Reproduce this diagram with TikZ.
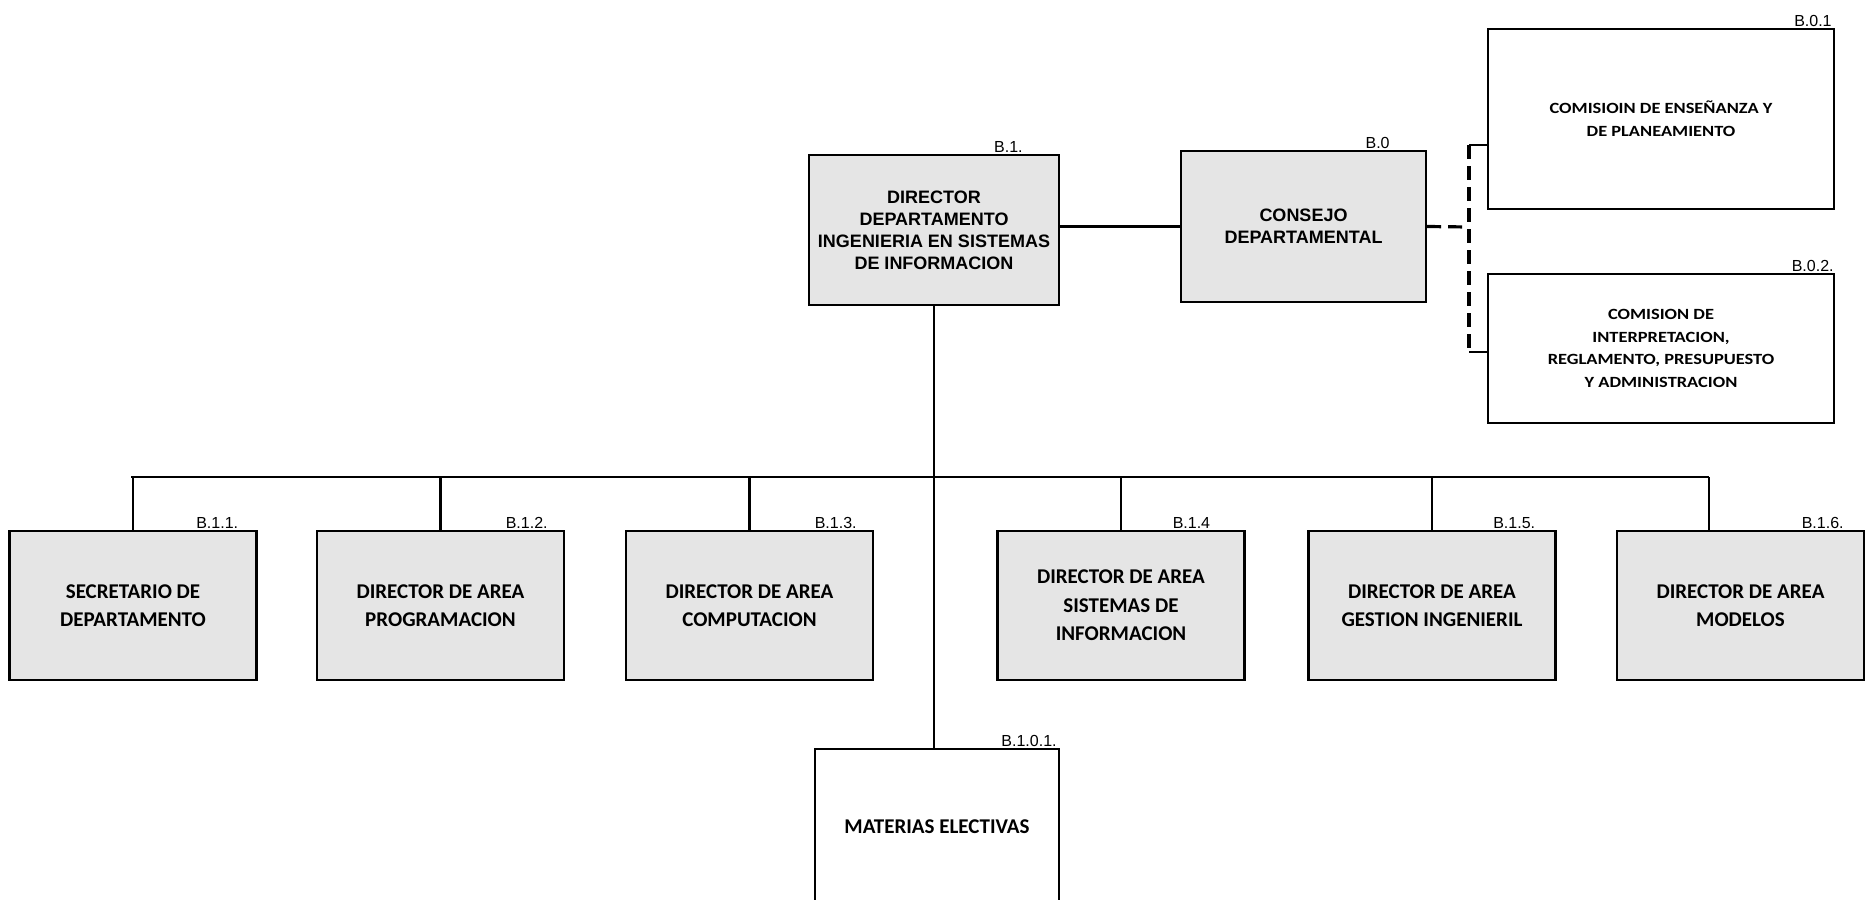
\documentclass[tikz,border=0pt]{standalone}
\usepackage{fontspec}
\setmainfont{Carlito}
\newfontfamily\arialfont{Liberation Sans}
\newfontfamily\widefont[FakeStretch=1.18]{Carlito}
\usetikzlibrary{positioning}

\tikzset{
  box/.style={draw, line width=1.2pt, align=center, inner sep=2pt,
    minimum width=123.5pt, minimum height=74.5pt,
    font=\bfseries\fontsize{10.5}{14.3}\selectfont},
  greybox/.style={box, fill=black!10},
  lbl/.style={font=\arialfont\fontsize{8}{9}\selectfont, inner sep=0.6pt},
  link/.style={line width=1.3pt},
  dlink/.style={line width=1.6pt, dash pattern=on 7pt off 3.5pt},
}

\begin{document}
\begin{tikzpicture}[x=0.5pt,y=-0.5pt]
\useasboundingbox (0,0) rectangle (1870,900);

% direccion y consejo
\node[greybox, minimum width=125pt, minimum height=75pt,
  font=\arialfont\bfseries\fontsize{9}{11}\selectfont] (dir) at (934,230)
  {DIRECTOR\\DEPARTAMENTO\\INGENIERIA EN SISTEMAS\\DE INFORMACION};
\node[greybox, minimum width=122.5pt, minimum height=75.5pt,
  font=\arialfont\bfseries\fontsize{9}{11}\selectfont] (cons) at (1303.5,226.5)
  {CONSEJO\\DEPARTAMENTAL};
\node[box, minimum width=173pt, minimum height=90pt,
  font=\widefont\bfseries\fontsize{7.8}{11.3}\selectfont] (b01) at (1661,119)
  {COMISIOIN DE ENSEÑANZA Y\\DE PLANEAMIENTO};
\node[box, minimum width=173pt, minimum height=74.5pt,
  font=\widefont\bfseries\fontsize{7.8}{11.3}\selectfont] (b02) at (1661,348.5)
  {COMISION DE\\INTERPRETACION,\\REGLAMENTO, PRESUPUESTO\\Y ADMINISTRACION};

% areas
\node[greybox] (b11) at (133,605.5) {SECRETARIO DE\\DEPARTAMENTO};
\node[greybox] (b12) at (440.5,605.5) {DIRECTOR DE AREA\\PROGRAMACION};
\node[greybox] (b13) at (749.5,605.5) {DIRECTOR DE AREA\\COMPUTACION};
\node[greybox] (b14) at (1121,605.5) {DIRECTOR DE AREA\\SISTEMAS DE\\INFORMACION};
\node[greybox] (b15) at (1432,605.5) {DIRECTOR DE AREA\\GESTION INGENIERIL};
\node[greybox] (b16) at (1740.5,605.5) {DIRECTOR DE AREA\\MODELOS};
\node[box, minimum width=122pt, minimum height=78pt] (mat) at (937,827)
  {MATERIAS ELECTIVAS};

% codigos
\node[lbl, above left=0pt and 18pt of dir.north east] {B.1.};
\node[lbl, above left=0pt and 18pt of cons.north east] {B.0};
\node[lbl, above left=0pt and 1pt of b01.north east] {B.0.1};
\node[lbl, above left=0pt and 0pt of b02.north east] {B.0.2.};
\node[lbl, above left=0pt and 9pt of b11.north east] {B.1.1.};
\node[lbl, above left=0pt and 8pt of b12.north east] {B.1.2.};
\node[lbl, above left=0pt and 8pt of b13.north east] {B.1.3.};
\node[lbl, above left=0pt and 17pt of b14.north east] {B.1.4};
\node[lbl, above left=0pt and 10pt of b15.north east] {B.1.5.};
\node[lbl, above left=0pt and 10pt of b16.north east] {B.1.6.};
\node[lbl, above left=0pt and 1pt of mat.north east] {B.1.0.1.};

% lineas
\coordinate (barl) at (131,477);
\coordinate (barr) at (1709,477);
\coordinate (djoin) at (1469,227);
\coordinate (dtop) at (1469,145);
\coordinate (dbot) at (1469,352);

\draw[link] (dir.east |- cons.west) -- (cons.west);
\draw[link] (dir.south) -- (dir.south |- mat.north);
\draw[link] (barl) -- (barr);
\foreach \b in {b11,b12,b13,b14,b15}
  \draw[link] (\b.north |- barl) -- (\b.north);
\draw[link] (barr) -- (barr |- b16.north);

\draw[dlink] (cons.east) -- (djoin);
\draw[dlink] (dtop) -- (dbot);
\draw[link] (dtop) -- (b01.west |- dtop);
\draw[link] (dbot) -- (b02.west |- dbot);
\end{tikzpicture}
\end{document}
